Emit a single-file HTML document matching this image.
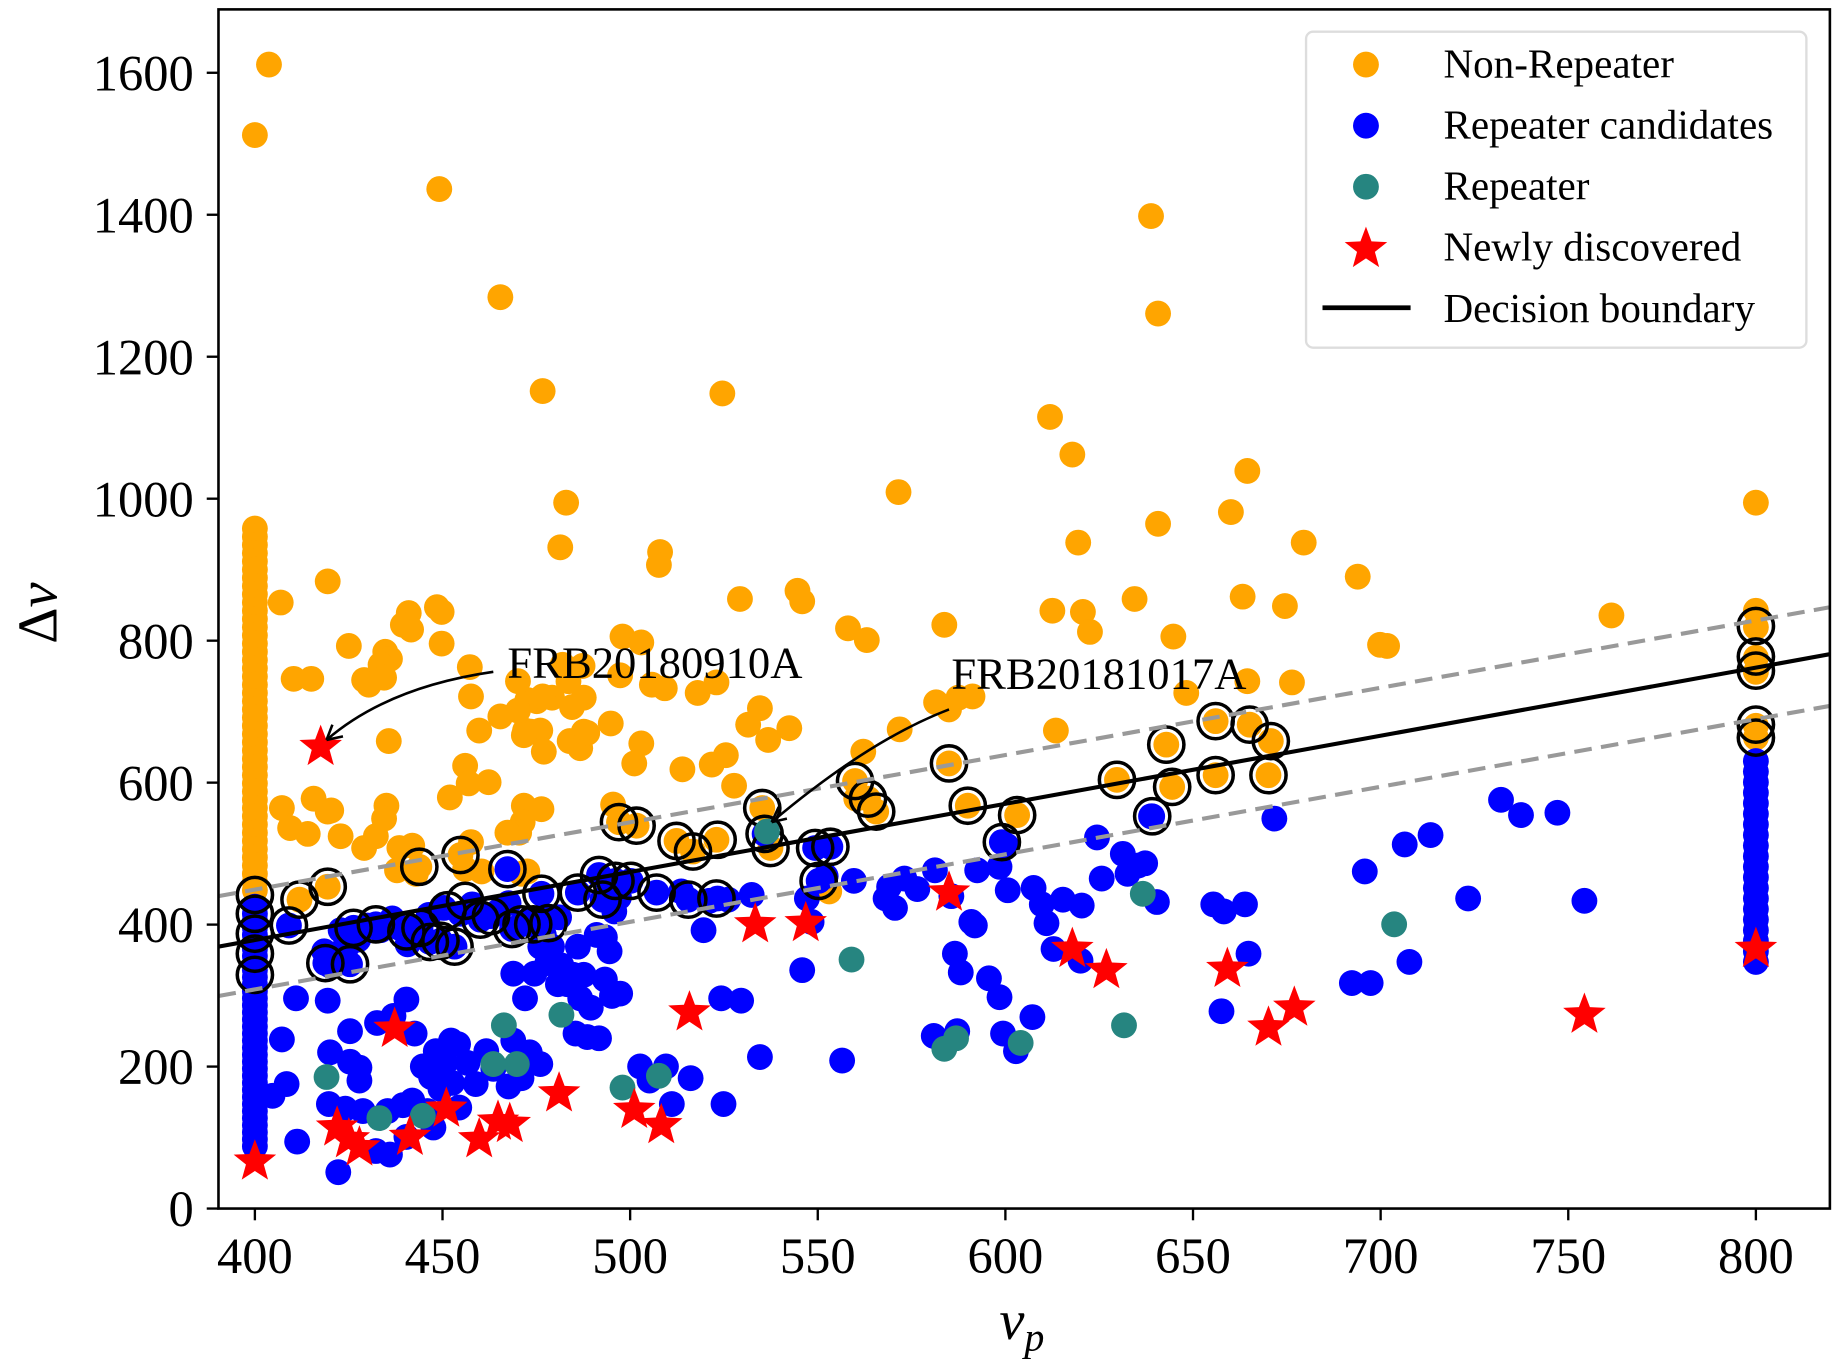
<!DOCTYPE html>
<html><head><meta charset="utf-8"><style>html,body{margin:0;padding:0;background:#fff;}svg{display:block}</style></head>
<body>
<svg id="s" width="1842" height="1363" viewBox="0 0 1568.3 1160.5" xmlns="http://www.w3.org/2000/svg" font-family="Liberation Serif, serif">
<rect width="1568.3" height="1160.5" fill="#fff"/>
<defs><clipPath id="c"><rect x="186" y="8" width="1372" height="1021"/></clipPath></defs>
<g id="pts" clip-path="url(#c)"></g>
<g id="lines" clip-path="url(#c)">
<line x1="186" y1="763" x2="1558" y2="517" stroke="#999" stroke-width="3.5" stroke-dasharray="15,8"/>
<line x1="186" y1="848" x2="1558" y2="601" stroke="#999" stroke-width="3.5" stroke-dasharray="15,8"/>
<line x1="186" y1="806" x2="1558" y2="557" stroke="#000" stroke-width="3.5"/>
</g>
<g id="top"></g>
<rect x="186" y="8" width="1372" height="1021" fill="none" stroke="#000" stroke-width="2.2"/>
<g id="ticks"></g>
<text x="432" y="577" font-size="38">FRB20180910A</text>
<path d="M420,572 Q330,585 278,630" fill="none" stroke="#000" stroke-width="2.2"/>
<path d="M278,630 l14,-3 M278,630 l5,-13" stroke="#000" stroke-width="2.2"/>
<text x="810" y="586" font-size="38">FRB20181017A</text>
<path d="M808,604 Q740,630 657,700" fill="none" stroke="#000" stroke-width="2.2"/>
<path d="M657,700 l6,-13 M657,700 l13,-3" stroke="#000" stroke-width="2.2"/>
<rect x="1112" y="27" width="426" height="269" rx="6" fill="#fff" fill-opacity="0.85" stroke="#ddd" stroke-width="2"/>
<circle cx="1163" cy="55" r="11" fill="#ffa500"/>
<circle cx="1163" cy="107" r="11" fill="#0000ff"/>
<circle cx="1163" cy="159" r="11" fill="#268580"/>
<polygon id="lstar" fill="#ff0000"/>
<line x1="1126" y1="262" x2="1201" y2="262" stroke="#000" stroke-width="4"/>
<g font-size="35">
<text x="1229" y="66">Non-Repeater</text>
<text x="1229" y="118">Repeater candidates</text>
<text x="1229" y="170">Repeater</text>
<text x="1229" y="222">Newly discovered</text>
<text x="1229" y="274">Decision boundary</text>
</g>
<text x="870" y="1140" font-size="48" font-style="italic" text-anchor="middle">ν<tspan font-size="34" dy="10">p</tspan></text>
<text transform="translate(48,522) rotate(-90)" font-size="48" text-anchor="middle">Δ<tspan font-style="italic">ν</tspan></text>
</svg>
<script>
const NS="http://www.w3.org/2000/svg";
const P=document.getElementById('pts'),T=document.getElementById('top'),K=document.getElementById('ticks');
function el(p,n,a,txt){const e=document.createElementNS(NS,n);for(const k in a)e.setAttribute(k,a[k]);if(txt!==undefined)e.textContent=txt;p.appendChild(e);return e;}
function dot(x,y,c){el(P,'circle',{cx:x,cy:y,r:11,fill:c});}
function star(x,y,R){let s='';for(let i=0;i<10;i++){const r=i%2?R*0.42:R;const a=-Math.PI/2+i*Math.PI/5;s+=(x+r*Math.cos(a)).toFixed(1)+','+(y+r*Math.sin(a)).toFixed(1)+' ';}return s;}
const O=[[229,55],[217,115],[374,161],[426,253],[462,333],[615,335],[894,355],[913,387],[980,184],[986,267],[1062,401],[1048,436],[765,419],[986,446],[1110,462],[1156,491],[1175,549],[1181,550],[1094,516],[1058,508],[918,462],[896,520],[922,521],[928,538],[966,510],[999,542],[1495,428],[1372,524],[1495,520],[1100,581],[1062,580],[1010,590],[899,622],[804,532],[797,598],[816,594],[808,604],[828,593],[722,535],[738,545],[766,621],[735,640],[729,680],[706,759],[679,503],[683,512],[630,510],[647,603],[637,617],[654,630],[672,620],[610,581],[594,590],[625,669],[581,655],[606,651],[618,643],[555,583],[566,586],[530,542],[546,547],[562,470],[561,481],[528,575],[546,633],[520,616],[540,650],[522,685],[479,566],[484,580],[496,567],[497,594],[470,594],[487,602],[457,597],[449,596],[447,622],[460,622],[485,631],[494,637],[497,623],[500,624],[482,428],[477,466],[462,593],[463,640],[452,623],[441,605],[426,610],[408,622],[401,593],[400,568],[396,652],[399,667],[383,679],[372,517],[376,521],[348,522],[376,548],[343,532],[350,536],[297,550],[328,555],[332,561],[310,579],[324,566],[327,577],[314,583],[239,513],[250,578],[265,578],[279,495],[279,691],[267,680],[282,690],[240,688],[262,710],[247,705],[290,712],[310,722],[320,712],[340,722],[351,720],[338,741],[354,744],[331,631],[329,686],[327,697],[441,580],[446,626],[416,666],[446,686],[445,700],[442,709],[432,709],[461,689],[410,742],[401,717],[396,740],[444,744],[449,742],[1495,534],[1495,560],[1495,572],[1495,618],[1495,628],[1035,614],[1064,617],[1082,631],[1080,660],[1035,660],[993,634],[998,670],[951,664],[866,694],[824,686],[808,650],[728,665],[739,680],[746,691],[649,688],[656,722],[610,715],[590,725],[576,716],[527,700],[542,703],[357,738],[392,728],[279,755],[255,766]];
for(let y=450;y<=762;y+=7)O.push([217,y]);
const B=[[252,850],[240,885],[244,923],[232,933],[253,972],[279,852],[281,896],[280,940],[288,998],[298,878],[306,909],[309,946],[320,980],[321,871],[335,865],[346,851],[353,880],[360,908],[351,937],[367,917],[371,895],[379,905],[384,886],[390,889],[375,927],[385,922],[364,946],[391,943],[369,960],[343,941],[330,946],[346,968],[332,983],[306,920],[298,904],[294,944],[398,905],[405,923],[414,895],[420,910],[433,925],[444,918],[451,896],[460,906],[437,886],[437,829],[447,850],[455,829],[460,806],[466,820],[470,806],[478,822],[483,838],[488,830],[475,838],[494,850],[497,830],[503,858],[490,880],[500,883],[510,884],[515,834],[519,810],[521,848],[528,846],[545,908],[553,920],[567,908],[572,940],[588,918],[599,792],[614,850],[631,852],[616,940],[647,900],[683,826],[717,903],[727,750],[754,765],[757,755],[762,773],[770,748],[781,757],[796,741],[810,763],[813,812],[818,828],[832,741],[827,785],[842,833],[851,849],[854,880],[857,720],[880,756],[887,770],[891,786],[897,808],[920,818],[934,713],[938,748],[960,744],[969,737],[975,735],[985,768],[1033,770],[1042,776],[1060,770],[1063,812],[1040,861],[1085,697],[1162,742],[1196,719],[1218,711],[1250,765],[1278,681],[1295,694],[1326,692],[1349,767],[1151,837],[1167,837],[1200,819],[980,695],[956,727],[905,766],[921,771],[858,758],[851,738],[830,788],[879,866],[815,878],[795,882],[865,895],[703,746],[687,765],[691,785],[640,762],[620,766],[604,767],[580,759],[527,764],[523,776],[515,798],[508,796],[492,806],[476,781],[469,781],[463,796],[450,783],[433,769],[424,776],[416,780],[402,770],[392,778],[378,773],[365,779],[353,790],[347,804],[340,790],[334,782],[324,792],[313,788],[305,800],[296,805],[287,812],[281,822],[276,810],[290,792],[301,790],[320,787],[346,793],[358,790],[366,802],[375,801],[387,806],[409,783],[418,780],[436,791],[444,787],[454,787],[432,740],[461,761],[492,760],[510,745],[513,766],[524,750],[537,750],[559,760],[586,766],[611,765],[651,710],[694,722],[707,721],[697,750],[853,717],[981,695],[246,788],[277,820],[298,821]];
for(let y=772;y<=978;y+=6)B.push([217,y]);
for(let y=648;y<=822;y+=9)B.push([1495,y]);
const G=[[278,917],[323,952],[360,950],[429,873],[420,906],[440,906],[478,864],[530,926],[561,916],[653,708],[725,817],[804,893],[814,884],[869,888],[957,873],[973,761],[1187,787]];
const S=[[273,636],[217,989],[287,960],[297,970],[306,977],[336,876],[349,968],[380,944],[408,970],[424,955],[434,957],[476,931],[540,945],[563,958],[587,862],[643,787],[686,786],[808,760],[913,808],[942,826],[1045,825],[1080,875],[1102,858],[1349,864],[1495,808]];
const C=[[217,762],[217,778],[217,795],[217,812],[217,830],[255,766],[279,755],[246,788],[277,820],[298,821],[301,790],[320,787],[357,738],[392,728],[346,793],[358,790],[366,802],[375,801],[387,806],[381,775],[396,767],[409,783],[418,780],[432,740],[436,791],[444,787],[454,787],[467,786],[461,761],[492,760],[510,745],[513,766],[527,700],[542,703],[524,750],[537,750],[559,760],[576,716],[586,766],[610,765],[590,725],[611,715],[649,688],[651,710],[656,722],[694,722],[707,721],[697,750],[728,665],[739,680],[746,691],[808,650],[824,686],[853,717],[866,694],[951,664],[981,695],[993,634],[998,670],[1035,660],[1035,614],[1064,617],[1082,631],[1080,660],[1495,533],[1495,559],[1495,571],[1495,617],[1495,628]];
O.forEach(p=>dot(p[0],p[1],'#ffa500'));
B.forEach(p=>dot(p[0],p[1],'#0000ff'));
C.forEach(p=>el(P,'circle',{cx:p[0],cy:p[1],r:15,fill:'none',stroke:'#000','stroke-width':3}));
G.forEach(p=>dot(p[0],p[1],'#268580'));
S.forEach(p=>el(P,'polygon',{points:star(p[0],p[1],19),fill:'#ff0000'}));
document.getElementById('lstar').setAttribute('points',star(1163,212,19));
for(let v=400;v<=800;v+=50){const x=217+(v-400)*3.195;el(K,'line',{x1:x,y1:1029,x2:x,y2:1039,stroke:'#000','stroke-width':2});el(K,'text',{x:x,y:1084,'font-size':43,'text-anchor':'middle'},String(v));}
for(let d=0;d<=1600;d+=200){const y=1029-d*0.6044;el(K,'line',{x1:176,y1:y,x2:186,y2:y,stroke:'#000','stroke-width':2});el(K,'text',{x:165,y:y+15,'font-size':43,'text-anchor':'end'},String(d));}
</script>
</body></html>
